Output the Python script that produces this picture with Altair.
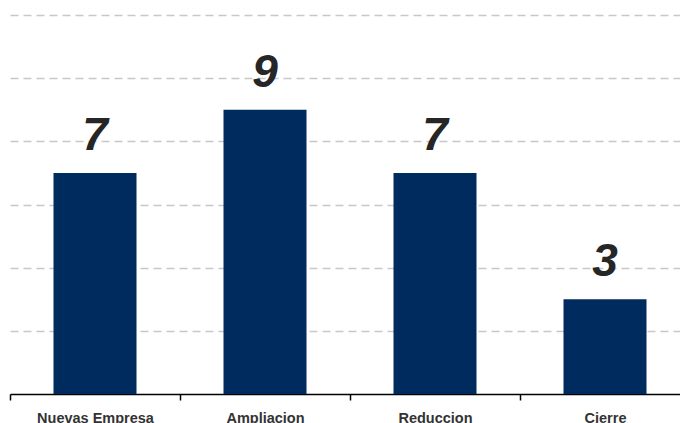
import altair as alt
import pandas as pd

categories = ["Nuevas Empresa", "Ampliacion", "Reduccion", "Cierre"]
values = [7, 9, 7, 3]

df = pd.DataFrame({"cat": categories, "val": values})

x_enc = alt.X(
    "cat:N",
    sort=categories,
    scale=alt.Scale(range=[0, 680], paddingInner=0, paddingOuter=0),
    axis=alt.Axis(
        title=None,
        labelAngle=0,
        labelFont="Liberation Sans",
        labelFontSize=14.5,
        labelFontWeight="bold",
        labelColor="#333333",
        labelPadding=11,
        domainColor="#000000",
        domainWidth=1.5,
        tickColor="#000000",
        tickWidth=1.5,
        tickSize=6,
        tickBand="extent",
        grid=False,
    ),
)

y_enc = alt.Y(
    "val:Q",
    scale=alt.Scale(domain=[0, 12], nice=False),
    axis=alt.Axis(
        title=None,
        values=[2, 4, 6, 8, 10, 12],
        labels=False,
        ticks=False,
        domain=False,
        grid=True,
        gridColor="#c8c8c8",
        gridWidth=1.5,
        gridDash=[8, 5],
    ),
)

base = alt.Chart(df).encode(x=x_enc, y=y_enc)

bars = base.mark_bar(color="#002b5e", width=83, clip=False)

text = base.mark_text(
    baseline="bottom",
    dy=-13,
    font="Liberation Sans",
    fontSize=46,
    fontStyle="italic",
    fontWeight="bold",
    color="#262626",
).encode(text="val:Q")

chart = (
    alt.layer(bars, text)
    .properties(
        width=670,
        height=379,
        background="white",
        padding={"left": 10, "top": 15, "right": 0, "bottom": 29},
        autosize=alt.AutoSizeParams(type="none"),
    )
    .configure_view(stroke="transparent", strokeWidth=0)
)

chart.save("out.html", embed_options={"renderer": "svg", "actions": False})
